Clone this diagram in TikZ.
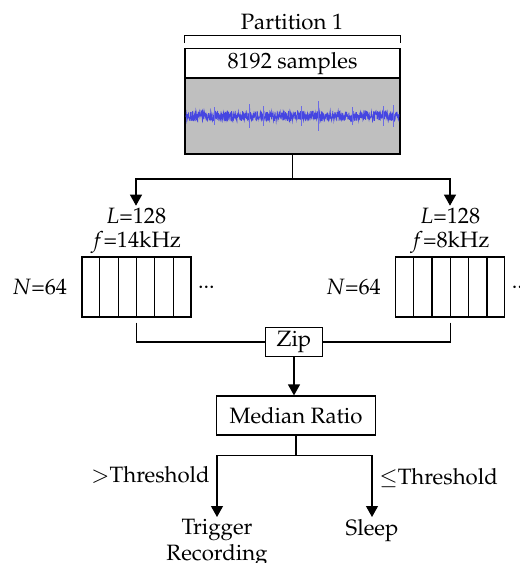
\documentclass[tikz,border=0pt]{standalone}
\usepackage[T1]{fontenc}
\usepackage{mathpazo}
\usetikzlibrary{arrows.meta,positioning,calc}
\definecolor{wave}{RGB}{70,70,225}
\tikzset{
  lbl/.style={inner sep=1pt},
  box/.style={draw, line width=0.6pt, inner sep=2pt},
  blk/.style={draw, line width=0.6pt, minimum width=54.5pt, minimum height=30pt},
  conn/.style={line width=0.6pt},
  arr/.style={conn, -{Triangle[length=5.5pt, width=6pt]}}
}
\begin{document}
\begin{tikzpicture}[x=0.5pt, y=-0.5pt, font=\fontsize{11.1}{13}\selectfont]
  \useasboundingbox (0,0) rectangle (520,563);
  % Partition with its samples
  \node[lbl] (part) at (292,22) {Partition 1};
  \node[box, minimum width=107.5pt, minimum height=13pt] (samples) at (292.5,64) {8192 samples};
  \draw[conn] ([yshift=2.5pt]samples.north west) -- ++(0,-8) -| ([yshift=2.5pt]samples.north east);
  \node[draw, line width=1pt, fill=black!25, minimum width=107.5pt, minimum height=38pt] (signal) at (292.5,116) {};
  % noisy waveform
  \pgfmathsetseed{7}
  \draw[wave, line width=0.4pt] plot[domain=186:399, samples=750] (\x, {116+5.2*rand});
  \foreach \sx/\sa in {214/9, 249/12, 263/10, 301/10, 318/15, 352/9, 383/10, 393/11}
    \draw[wave!80!white, line width=0.3pt] (\sx,116-\sa) -- (\sx,116+\sa);

  % split into two branches
  \draw[conn] (signal.south) -- ++(0,24) coordinate (split);

  % left branch
  \node[lbl] (lenL) at (136,216) {$L$=128};
  \node[lbl] (freqL) at (136,242) {$f$=14kHz};
  \node[blk] (blkL) at (136.5,287) {};
  \node[lbl, left=6pt of blkL] (numL) {$N$=64};
  \node[lbl, right=2pt of blkL] (dotsL) {...};
  \draw[arr] (split) -| (lenL.north);

  % right branch
  \node[lbl] (lenR) at (450,216) {$L$=128};
  \node[lbl] (freqR) at (450,242) {$f$=8kHz};
  \node[blk] (blkR) at (450.3,287) {};
  \node[lbl, left=6pt of blkR] (numR) {$N$=64};
  \node[lbl, right=2pt of blkR] (dotsR) {...};
  \draw[arr] (split) -| (lenR.north);

  % cells of both blocks
  \foreach \b in {blkL,blkR}
    \foreach \i in {1,...,5}
      \draw[conn] ($(\b.north west)!\i/6!(\b.north east)$) -- ($(\b.south west)!\i/6!(\b.south east)$);

  % zip and decision
  \node[box, minimum width=28.5pt, minimum height=14pt] (zip) at (294,342) {Zip};
  \draw[conn] ([yshift=-2.5pt]blkL.south) |- (zip.west);
  \draw[conn] ([yshift=-2.5pt]blkR.south) |- (zip.east);
  \node[box, minimum width=79.5pt, minimum height=19.5pt] (median) at (296,415.5) {Median Ratio};
  \draw[arr] (zip.south) -- (zip.south |- median.north);
  \draw[conn] (median.south) -- ++(0,20) coordinate (fork);
  \node[lbl, align=center, anchor=north] (trig) at (217,517) {Trigger\\Recording};
  \node[lbl, anchor=north] (sleep) at (372,517) {Sleep};
  \draw[arr] (fork) -| node[pos=0.66, left] {$>$Threshold} (trig.north);
  \draw[arr] (fork) -| node[pos=0.68, right] {$\leq$Threshold} (sleep.north);
\end{tikzpicture}
\end{document}
